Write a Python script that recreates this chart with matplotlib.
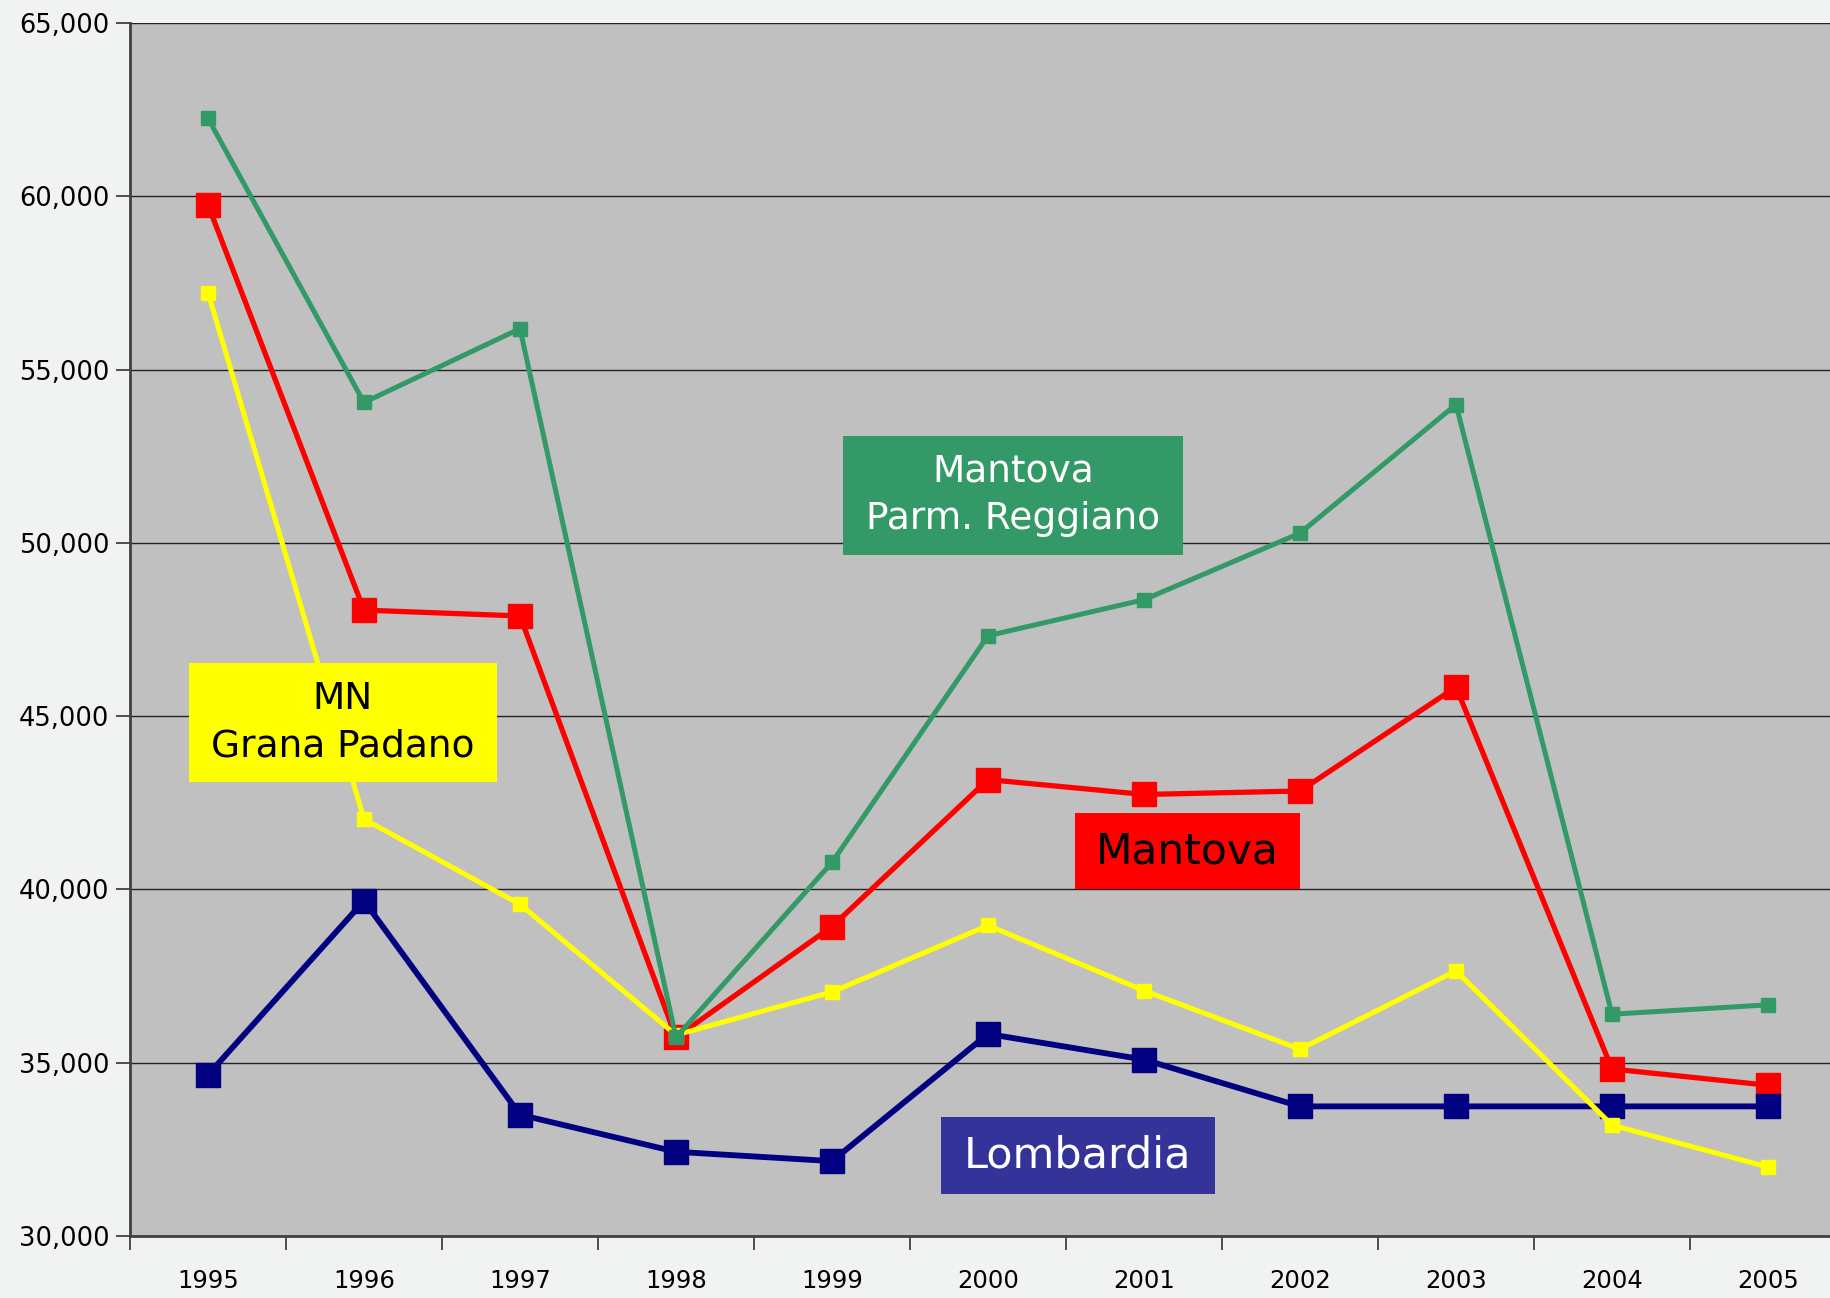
import matplotlib
matplotlib.use("Agg")
import matplotlib.pyplot as plt
from matplotlib.patches import Rectangle
from matplotlib.ticker import FuncFormatter, FixedLocator

years = ["1995", "1996", "1997", "1998", "1999", "2000", "2001", "2002", "2003", "2004", "2005"]
mantova_parm = [62250, 54050, 56180, 35730, 40780, 47320, 48360, 50280, 53990, 36400, 36670]
mantova = [59750, 48060, 47890, 35730, 38930, 43170, 42740, 42840, 45840, 34820, 34350]
mn_grana = [57220, 42030, 39570, 35800, 37040, 38960, 37080, 35390, 37650, 33200, 31990]
lombardia = [34650, 39670, 33500, 32430, 32160, 35830, 35090, 33740, 33740, 33740, 33740]
y_ticks = [30000, 35000, 40000, 45000, 50000, 55000, 60000, 65000]

W, H = 1830, 1298
fig = plt.figure(figsize=(W / 100, H / 100), dpi=100)
fig.patch.set_facecolor("#f1f2f2")

left, right, top, bottom = 130, 1846, 23, 1236
ax = fig.add_axes([left / W, 1 - bottom / H, (right - left) / W, (bottom - top) / H])
ax.set_facecolor("#c0c0c0")

x = list(range(len(years)))
ax.plot(x, mantova, color="#ff0000", lw=3.8, marker="s", ms=17, mec="#ff0000", mfc="#ff0000", zorder=3)
ax.plot(x, lombardia, color="#000080", lw=4.2, marker="s", ms=17, mec="#000080", mfc="#000080", zorder=4)
ax.plot(x, mn_grana, color="#ffff00", lw=3.6, marker="s", ms=10.5, mec="#ffff00", mfc="#ffff00", zorder=5)
ax.plot(x, mantova_parm, color="#339966", lw=3.6, marker="s", ms=10.5, mec="#339966", mfc="#339966", zorder=6)

ax.set_xlim(-0.5, len(years) - 0.5)
ax.set_ylim(30000, 65000)
ax.yaxis.set_major_locator(FixedLocator(y_ticks))
ax.yaxis.set_major_formatter(FuncFormatter(lambda v, p: f"{int(v):,}"))
ax.grid(axis="y", color="#222222", lw=1.0, zorder=1)
ax.set_axisbelow(True)

ax.set_xticks(x)
ax.set_xticklabels(years)
ax.set_xticks([i - 0.5 for i in range(len(years) + 1)], minor=True)
ax.tick_params(axis="x", which="major", length=0, pad=24, labelsize=17.5)
ax.tick_params(axis="x", which="minor", length=10, width=1.2, color="#333333", direction="out")
ax.tick_params(axis="y", length=10, width=1.2, color="#333333", labelsize=18.5, pad=5)

for s in ["top", "right"]:
    ax.spines[s].set_visible(False)
ax.spines["left"].set_color("#404040")
ax.spines["left"].set_linewidth(2)
ax.spines["bottom"].set_color("#404040")
ax.spines["bottom"].set_linewidth(2)


def label_box(x0, y0, x1, y1, fc, text, tc, fs):
    fig.add_artist(Rectangle((x0 / W, 1 - y1 / H), (x1 - x0) / W, (y1 - y0) / H,
                             transform=fig.transFigure, facecolor=fc, edgecolor="none", zorder=10))
    fig.text((x0 + x1) / 2 / W, 1 - (y0 + y1) / 2 / H, text, ha="center", va="center",
             color=tc, fontsize=fs, zorder=11, linespacing=1.4)


label_box(843, 436, 1183, 555, "#339966", "Mantova\nParm. Reggiano", "white", 27)
label_box(189, 663, 497, 782, "#ffff00", "MN\nGrana Padano", "black", 27)
label_box(1075, 813, 1300, 889, "#ff0000", "Mantova", "black", 30.5)
label_box(941, 1117, 1215, 1194, "#333399", "Lombardia", "white", 31)

fig.savefig("out.png", dpi=100, facecolor=fig.get_facecolor())
